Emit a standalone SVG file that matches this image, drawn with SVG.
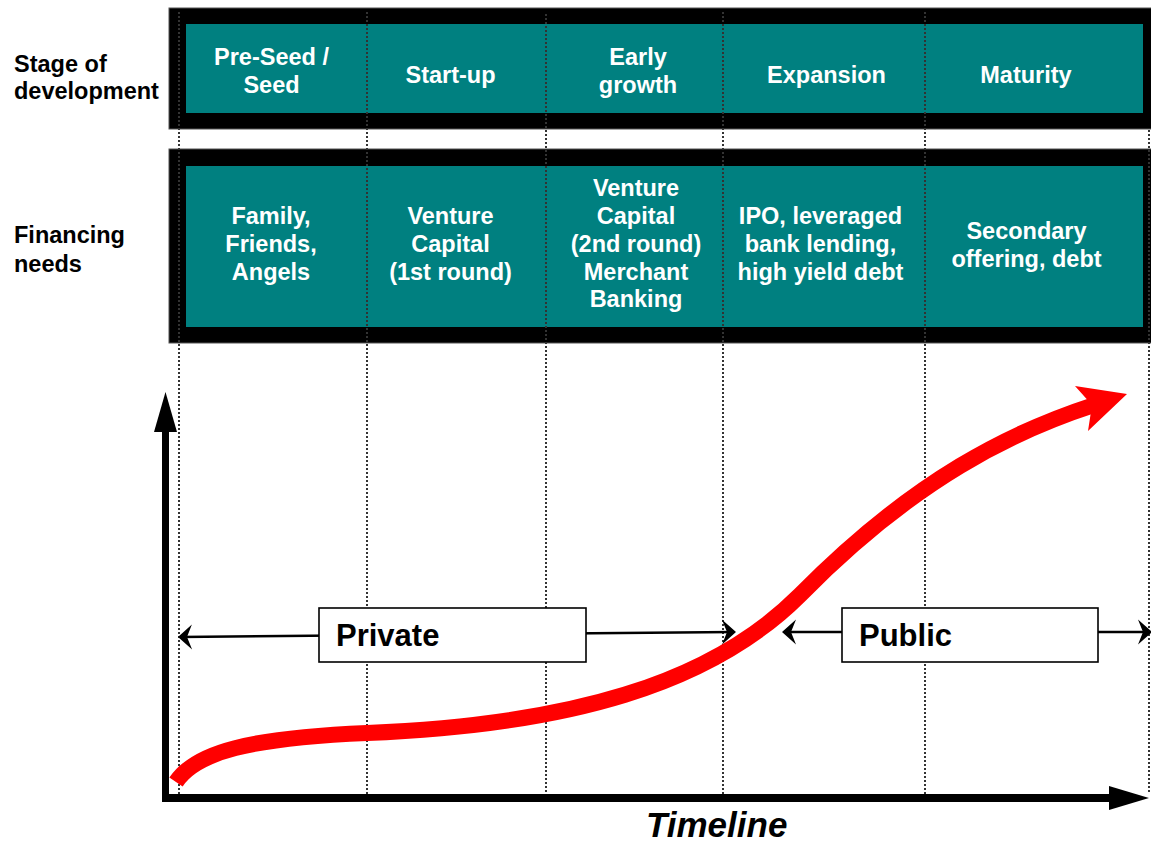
<svg xmlns="http://www.w3.org/2000/svg" width="1151" height="843" viewBox="0 0 1151 843">
  <style>
    .frame { fill: #000; stroke: #555; stroke-width: 1; }
    .panel { fill: #008080; }
    .cell { font-family: "Liberation Sans", Arial, sans-serif; font-weight: bold; font-size: 23.5px; fill: #fff; text-anchor: middle; }
    .side { font-family: "Liberation Sans", Arial, sans-serif; font-weight: bold; font-size: 23.5px; fill: #000; }
    .guide { stroke: #333; stroke-width: 2; stroke-dasharray: 2 2; fill: none; shape-rendering: crispEdges; }
    .span { stroke: #000; stroke-width: 2.5; fill: none; marker-start: url(#barb); marker-end: url(#barb); }
    .tag { fill: #fff; stroke: #000; stroke-width: 1.6; }
    .tagtext { font-family: "Liberation Sans", Arial, sans-serif; font-weight: bold; font-size: 31px; fill: #000; }
    .axis { stroke: #000; fill: none; }
  </style>
  <defs>
    <marker id="barb" viewBox="-13 -13 16 26" refX="0" refY="0" markerWidth="16" markerHeight="26" markerUnits="userSpaceOnUse" orient="auto-start-reverse">
      <path d="M2,0 L-12,-12.5 L-7,0 L-12,12.5 Z" fill="#000"/>
    </marker>
  </defs>

  <rect width="1151" height="843" fill="#fff"/>

  <!-- row labels -->
  <g id="label-stage">
    <text class="side" x="14" y="72">Stage of</text>
    <text class="side" x="14" y="99">development</text>
  </g>
  <g id="label-financing">
    <text class="side" x="14" y="243">Financing</text>
    <text class="side" x="14" y="272">needs</text>
  </g>

  <!-- stage band -->
  <g id="stage-band">
    <rect class="frame" x="169" y="8" width="995" height="121"/>
    <rect class="panel" x="186" y="24" width="957" height="89"/>
  </g>
  <!-- financing band -->
  <g id="financing-band">
    <rect class="frame" x="169" y="149" width="995" height="194"/>
    <rect class="panel" x="186" y="166" width="957" height="161"/>
  </g>

  <!-- column guides -->
  <g id="guides">
    <line class="guide" x1="179" y1="12" x2="179" y2="794"/>
    <line class="guide" x1="367" y1="12" x2="367" y2="794"/>
    <line class="guide" x1="546" y1="14" x2="546" y2="794"/>
    <line class="guide" x1="723" y1="12" x2="723" y2="794"/>
    <line class="guide" x1="925" y1="12" x2="925" y2="794"/>
    <line class="guide" x1="1149" y1="130" x2="1149" y2="794"/>
  </g>

  <!-- stages -->
  <g id="stage-seed">
    <text class="cell" x="271.5" y="65">Pre-Seed /</text>
    <text class="cell" x="271.5" y="93">Seed</text>
  </g>
  <g id="stage-startup">
    <text class="cell" x="450.5" y="83">Start-up</text>
  </g>
  <g id="stage-early">
    <text class="cell" x="638" y="65">Early</text>
    <text class="cell" x="638" y="93">growth</text>
  </g>
  <g id="stage-expansion">
    <text class="cell" x="826.5" y="83">Expansion</text>
  </g>
  <g id="stage-maturity">
    <text class="cell" x="1026" y="83">Maturity</text>
  </g>

  <!-- financing sources -->
  <g id="fin-seed">
    <text class="cell" x="271" y="224">Family,</text>
    <text class="cell" x="271" y="252">Friends,</text>
    <text class="cell" x="271" y="280">Angels</text>
  </g>
  <g id="fin-startup">
    <text class="cell" x="450.5" y="224">Venture</text>
    <text class="cell" x="450.5" y="252">Capital</text>
    <text class="cell" x="450.5" y="280">(1st round)</text>
  </g>
  <g id="fin-early">
    <text class="cell" x="636" y="196">Venture</text>
    <text class="cell" x="636" y="224">Capital</text>
    <text class="cell" x="636" y="252">(2nd round)</text>
    <text class="cell" x="636" y="280">Merchant</text>
    <text class="cell" x="636" y="307">Banking</text>
  </g>
  <g id="fin-expansion">
    <text class="cell" x="820.5" y="224">IPO, leveraged</text>
    <text class="cell" x="820.5" y="252">bank lending,</text>
    <text class="cell" x="820.5" y="280">high yield debt</text>
  </g>
  <g id="fin-maturity">
    <text class="cell" x="1026.5" y="239">Secondary</text>
    <text class="cell" x="1026.5" y="267">offering, debt</text>
  </g>

  <!-- axes -->
  <g id="axes">
    <line class="axis" x1="165.5" y1="796" x2="165.5" y2="430" stroke-width="7"/>
    <polygon points="165.5,392 154,432 177,432" fill="#000"/>
    <line class="axis" x1="162" y1="798" x2="1111" y2="798" stroke-width="8"/>
    <polygon points="1149,798 1109,786 1109,810" fill="#000"/>
  </g>

  <!-- growth curve: flat start, steep rise, levelling off -->
  <g id="growth-curve">
    <path d="M176,782 C196,752 250,738 367,733 C567,725 710,685 800,595 C915,478 1014,431 1094,405" fill="none" stroke="#ff0000" stroke-width="16"/>
    <polygon points="1127,394 1075,386 1092,405 1088,431" fill="#ff0000"/>
  </g>

  <!-- private / public spans -->
  <g id="connectors">
    <line class="span" x1="180" y1="637" x2="734" y2="632"/>
    <line class="span" x1="784" y1="632" x2="1150" y2="632"/>
  </g>
  <g id="tag-private">
    <rect class="tag" x="319" y="608" width="267" height="54"/>
    <text class="tagtext" x="336" y="646">Private</text>
  </g>
  <g id="tag-public">
    <rect class="tag" x="842" y="608" width="256" height="54"/>
    <text class="tagtext" x="859" y="646">Public</text>
  </g>

  <!-- axis caption -->
  <g id="caption">
    <text x="646" y="837" font-family="'Liberation Sans', Arial, sans-serif" font-weight="bold" font-style="italic" font-size="35" fill="#000">Timeline</text>
  </g>
</svg>
